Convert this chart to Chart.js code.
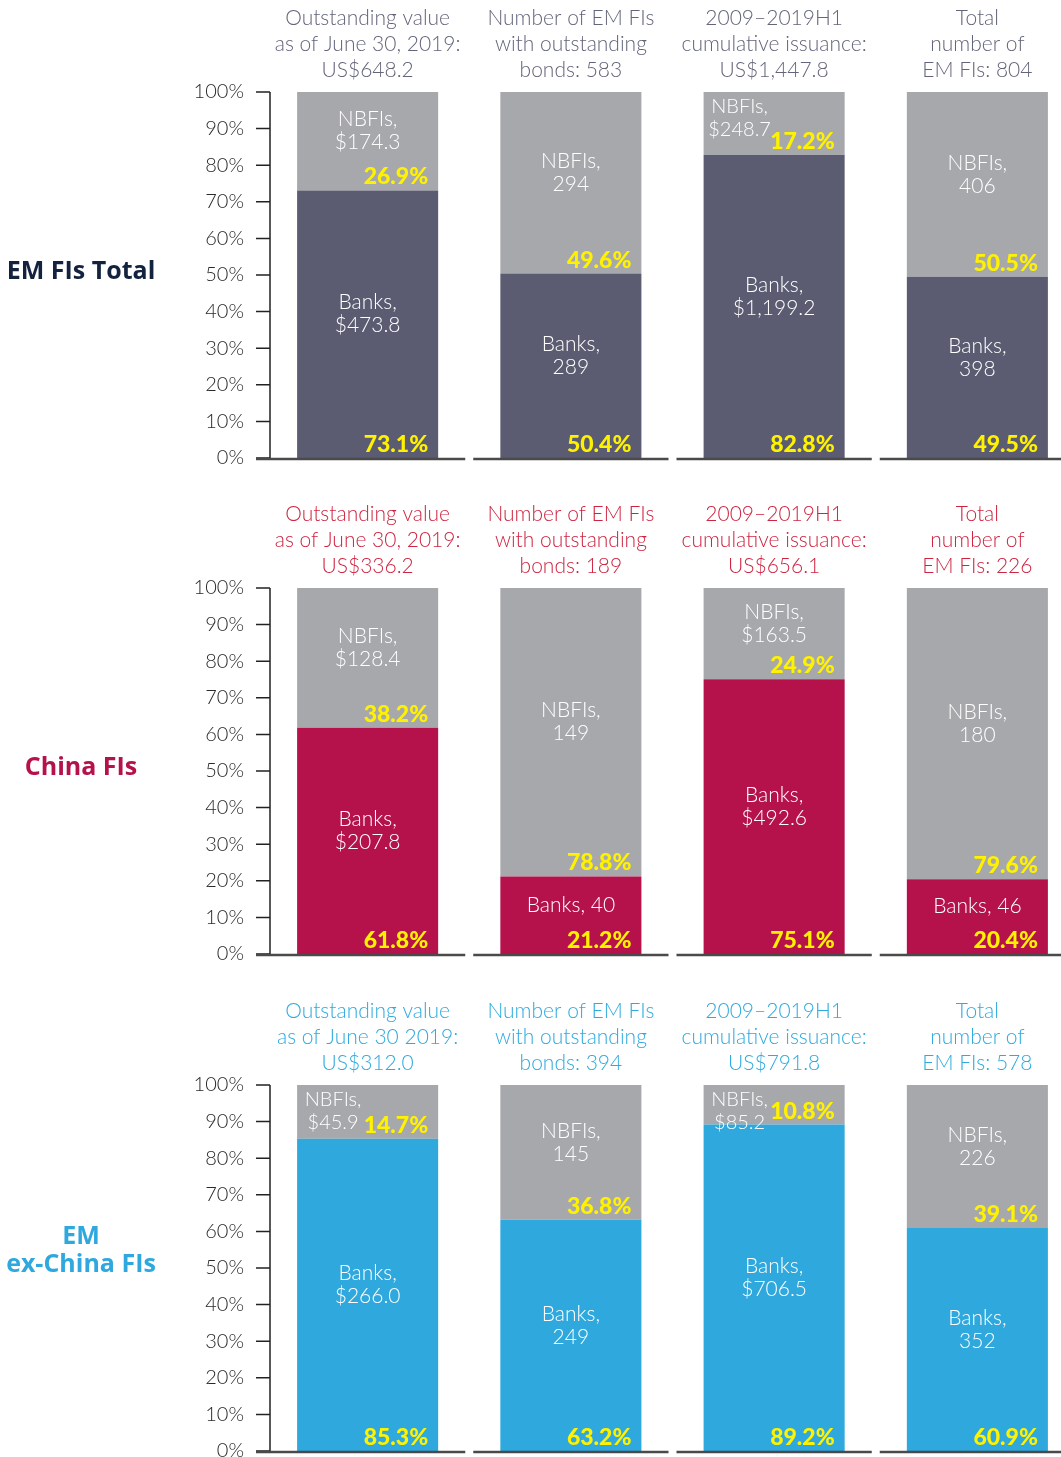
<!DOCTYPE html>
<html>
<head>
<meta charset="utf-8">
<script src="https://cdn.jsdelivr.net/npm/chart.js@4/dist/chart.umd.min.js"></script>
<style>
  html, body { margin: 0; padding: 0; background: #fff; overflow: hidden; width: 1061px; height: 1457px; }
  .panel { position: absolute; left: 0; }
</style>
</head>
<body>
<div class="panel" style="top:0px"><canvas id="chartTotal" width="1079" height="498"></canvas></div>
<div class="panel" style="top:496px"><canvas id="chartChina" width="1079" height="498"></canvas></div>
<div class="panel" style="top:993px"><canvas id="chartExChina" width="1079" height="498"></canvas></div>
<script>
// column headers, one set per panel
const totalTitles = [
  ['Outstanding value', 'as of June 30, 2019:', 'US$648.2'],
  ['Number of EM FIs', 'with outstanding', 'bonds: 583'],
  ['2009\u20132019H1', 'cumulative issuance:', 'US$1,447.8'],
  ['Total', 'number of', 'EM FIs: 804']
];
const chinaTitles = [
  ['Outstanding value', 'as of June 30, 2019:', 'US$336.2'],
  ['Number of EM FIs', 'with outstanding', 'bonds: 189'],
  ['2009\u20132019H1', 'cumulative issuance:', 'US$656.1'],
  ['Total', 'number of', 'EM FIs: 226']
];
const exChinaTitles = [
  ['Outstanding value', 'as of June 30 2019:', 'US$312.0'],
  ['Number of EM FIs', 'with outstanding', 'bonds: 394'],
  ['2009\u20132019H1', 'cumulative issuance:', 'US$791.8'],
  ['Total', 'number of', 'EM FIs: 578']
];
const dollarColumns = [true, false, true, false];
const yTicks = [0, 10, 20, 30, 40, 50, 60, 70, 80, 90, 100];

// EM FIs total
const totalBanks = [473.8, 289, 1199.2, 398];
const totalNbfis = [174.3, 294, 248.7, 406];
const totalBanksPct = [73.1, 50.4, 82.8, 49.5];
const totalNbfisPct = [26.9, 49.6, 17.2, 50.5];

// China FIs
const chinaBanks = [207.8, 40, 492.6, 46];
const chinaNbfis = [128.4, 149, 163.5, 180];
const chinaBanksPct = [61.8, 21.2, 75.1, 20.4];
const chinaNbfisPct = [38.2, 78.8, 24.9, 79.6];

// EM ex-China FIs
const exChinaBanks = [266.0, 249, 706.5, 352];
const exChinaNbfis = [45.9, 145, 85.2, 226];
const exChinaBanksPct = [85.3, 63.2, 89.2, 60.9];
const exChinaNbfisPct = [14.7, 36.8, 10.8, 39.1];

const GRAY = '#a7a8ac';
const YELLOW = '#fff200';
const LIGHT = '"Lato", "Open Sans", sans-serif';

function fmt(v, dollar){
  if(!dollar) return String(v);
  return '$' + v.toLocaleString('en-US', {minimumFractionDigits: 1, maximumFractionDigits: 1});
}

function makePanel(id, opts){
  const labelsPlugin = {
    id: 'labels' + id,
    afterDraw(chart){
      const ctx = chart.ctx;
      const area = chart.chartArea;
      const y = chart.scales.y;
      ctx.save();

      // y axis line + ticks
      ctx.strokeStyle = '#222';
      ctx.lineWidth = 1.5;
      ctx.beginPath();
      ctx.moveTo(270, y.getPixelForValue(100));
      ctx.lineTo(270, y.getPixelForValue(0));
      yTicks.forEach(t => {
        const py = y.getPixelForValue(t);
        ctx.moveTo(256, py);
        ctx.lineTo(270, py);
      });
      ctx.stroke();

      // baseline segments under each column
      const band = (area.right - area.left) / opts.titles.length;
      ctx.strokeStyle = '#4a4a4a';
      ctx.lineWidth = 2.5;
      ctx.beginPath();
      for(let j = 0; j < opts.titles.length; j++){
        const x0 = j === 0 ? 256 : area.left + j * band + 4;
        const x1 = area.left + (j + 1) * band - 4;
        ctx.moveTo(x0, area.bottom + 1);
        ctx.lineTo(x1, area.bottom + 1);
      }
      ctx.stroke();

      // column titles
      const meta0 = chart.getDatasetMeta(0);
      ctx.fillStyle = opts.titleColor;
      ctx.font = '300 21px ' + LIGHT;
      ctx.textAlign = 'center';
      ctx.textBaseline = 'middle';
      opts.titles.forEach((lines, j) => {
        const cx = meta0.data[j].x;
        lines.forEach((ln, k) => ctx.fillText(ln, cx, area.top - 74 + k * 26));
      });

      // row label
      ctx.fillStyle = opts.rowColor;
      ctx.font = 'bold 25px "Open Sans", "Lato", sans-serif';
      const mid = (area.top + area.bottom) / 2;
      opts.rowLabel.forEach((ln, k) => {
        ctx.fillText(ln, 81, mid - 3 - (opts.rowLabel.length - 1 - k) * 28);
      });

      // segment labels
      const names = ['Banks,', 'NBFIs,'];
      const values = [opts.banks, opts.nbfis];
      const pcts = [opts.banksPct, opts.nbfisPct];
      for(let d = 0; d < 2; d++){
        const meta = chart.getDatasetMeta(d);
        meta.data.forEach((el, j) => {
          const top = el.y, bot = el.base, h = bot - top;
          const left = el.x - el.width / 2, right = el.x + el.width / 2;
          const val = fmt(values[d][j], dollarColumns[j]);
          ctx.fillStyle = '#fff';
          ctx.font = '300 21px ' + LIGHT;
          ctx.textAlign = 'center';
          ctx.textBaseline = 'middle';
          if(h < 70){
            ctx.font = '300 20px ' + LIGHT;
            const cy = Math.max((top + bot - 20) / 2, top + 26);
            ctx.fillText(names[d], left + 36, cy - 11.5);
            ctx.fillText(val, left + 36, cy + 11.5);
          } else if(h < 90){
            ctx.fillText(names[d] + ' ' + val, el.x, (top + bot - 20) / 2);
          } else {
            const cy = Math.max((top + bot - 20) / 2, top + 26);
            ctx.fillText(names[d], el.x, cy - 11.5);
            ctx.fillText(val, el.x, cy + 11.5);
          }
          ctx.fillStyle = YELLOW;
          ctx.font = '900 23px "Lato", "Open Sans", sans-serif';
          ctx.textAlign = 'right';
          ctx.textBaseline = 'alphabetic';
          ctx.fillText(pcts[d][j].toFixed(1) + '%', right - 10, bot - 6);
        });
      }
      ctx.restore();
    }
  };

  const ctx = document.getElementById(id).getContext('2d');
  return new Chart(ctx, {
    type: 'bar',
    data: {
      labels: opts.titles.map(t => t.join(' ')),
      datasets: [{
        label: 'Banks',
        data: opts.banksPct,
        backgroundColor: opts.bankColor,
        borderWidth: 0,
        barPercentage: 0.694,
        categoryPercentage: 1
      }, {
        label: 'NBFIs',
        data: opts.nbfisPct,
        backgroundColor: GRAY,
        borderWidth: 0,
        barPercentage: 0.694,
        categoryPercentage: 1
      }]
    },
    options: {
      responsive: false,
      animation: false,
      devicePixelRatio: 1,
      layout: { padding: { top: 92, bottom: 40, left: 0, right: 0 } },
      plugins: { legend: { display: false }, tooltip: { enabled: false } },
      scales: {
        x: { stacked: true, display: false },
        y: {
          stacked: true,
          min: 0,
          max: 100,
          afterFit: function(s){ s.width = 266; },
          afterBuildTicks: function(s){ s.ticks = yTicks.map(v => ({ value: v })); },
          grid: { display: false },
          border: { display: false },
          ticks: {
            padding: 14,
            color: '#2a2a2a',
            font: { family: LIGHT, size: 20, weight: '300' },
            callback: function(value){ return value + '%'; }
          }
        }
      }
    },
    plugins: [labelsPlugin]
  });
}

makePanel('chartTotal', {
  titles: totalTitles, titleColor: '#62657a', rowLabel: ['EM FIs Total'], rowColor: '#13223f',
  bankColor: '#5b5c71', banks: totalBanks, nbfis: totalNbfis, banksPct: totalBanksPct, nbfisPct: totalNbfisPct
});
makePanel('chartChina', {
  titles: chinaTitles, titleColor: '#cf2440', rowLabel: ['China FIs'], rowColor: '#b5124b',
  bankColor: '#b5124b', banks: chinaBanks, nbfis: chinaNbfis, banksPct: chinaBanksPct, nbfisPct: chinaNbfisPct
});
makePanel('chartExChina', {
  titles: exChinaTitles, titleColor: '#2eaade', rowLabel: ['EM', 'ex-China FIs'], rowColor: '#2ea8de',
  bankColor: '#2fa8de', banks: exChinaBanks, nbfis: exChinaNbfis, banksPct: exChinaBanksPct, nbfisPct: exChinaNbfisPct
});
</script>
</body>
</html>
